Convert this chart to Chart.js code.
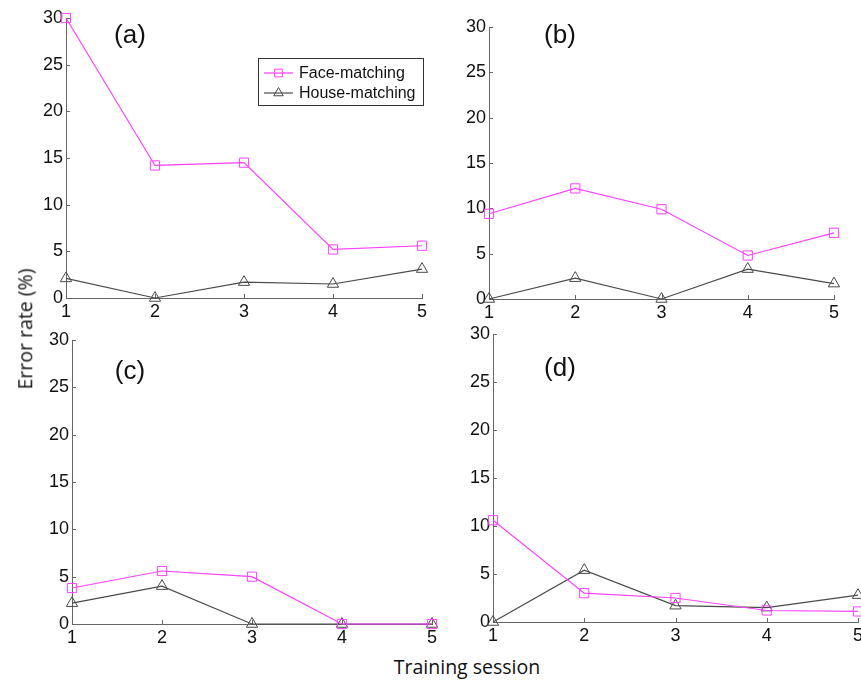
<!DOCTYPE html>
<html>
<head>
<meta charset="utf-8">
<script src="https://cdn.jsdelivr.net/npm/chart.js@4.4.0/dist/chart.umd.min.js"></script>
<style>
  body { margin: 0; background: #fff; }
  #wrap { position: relative; width: 861px; height: 681px; overflow: hidden; }
  canvas { position: absolute; }
  .axlabel { position: absolute; font-family: "Open Sans", sans-serif; font-size: 19.5px; color: #111; white-space: nowrap; line-height: 1; }
</style>
</head>
<body>
<div id="wrap">
  <canvas id="pa"></canvas>
  <canvas id="pb"></canvas>
  <canvas id="pc"></canvas>
  <canvas id="pd"></canvas>
  <div class="axlabel" id="ylab" style="left:25px; top:329px; transform: translate(-50%,-50%) rotate(-90deg);">Error rate (%)</div>
  <div class="axlabel" id="xlab" style="left:467px; top:667px; transform: translate(-50%,-50%);">Training session</div>
</div>
<script>
// sessions on the x axis
const sessions = ['1', '2', '3', '4', '5']
const seriesNames = ['Face-matching', 'House-matching']
const yMin = 0, yMax = 30, yStep = 5

// error rate (%)
const faceA = [30, 14.2, 14.5, 5.2, 5.6]
const houseA = [2.1, 0, 1.7, 1.5, 3.1]
const faceB = [9.4, 12.2, 9.9, 4.8, 7.3]
const houseB = [0, 2.3, 0, 3.3, 1.7]
const faceC = [3.8, 5.6, 5.0, 0, 0]
const houseC = [2.2, 4.0, 0, 0, 0]
const faceD = [10.6, 3.0, 2.5, 1.2, 1.1]
const houseD = [0, 5.4, 1.7, 1.5, 2.8]

const faceColor = '#ff40ff'
const houseColor = '#4a4a4a'
const axisColor = '#666'
const tickFont = { family: 'Liberation Sans, Arial, sans-serif', size: 18 }

const Y_W = 36, X_H = 28, PAD_T = 14, PAD_R = 10

// small ticks pointing into the plot, like matlab
const insideTicks = {
    id: 'insideTicks',
    beforeDatasetsDraw(chart) {
        const { ctx, chartArea, scales } = chart
        ctx.save()
        ctx.strokeStyle = axisColor
        ctx.lineWidth = 1
        ctx.beginPath()
        scales.y.ticks.forEach(t => {
            const y = Math.round(scales.y.getPixelForValue(t.value)) + 0.5
            ctx.moveTo(chartArea.left, y)
            ctx.lineTo(chartArea.left + 4, y)
        })
        scales.x.ticks.forEach((t, i) => {
            const x = Math.round(scales.x.getPixelForTick(i)) + 0.5
            ctx.moveTo(x, chartArea.bottom)
            ctx.lineTo(x, chartArea.bottom - 4)
        })
        ctx.stroke()
        ctx.restore()
    }
}

// "(a)" etc. and the boxed legend of panel a
const panelText = {
    id: 'panelText',
    afterDraw(chart, args, opts) {
        const { ctx, chartArea } = chart
        ctx.save()
        ctx.fillStyle = '#111'
        ctx.font = '26px Liberation Sans, Arial, sans-serif'
        ctx.textAlign = 'center'
        ctx.textBaseline = 'middle'
        ctx.fillText(opts.tag, chartArea.left + opts.tagDx, chartArea.top + opts.tagDy)

        if (opts.legend) {
            const w = 165, h = 47
            const bx = chartArea.right + 1 - w, by = chartArea.top + 40
            ctx.fillStyle = '#fff'
            ctx.fillRect(bx, by, w, h)
            ctx.strokeStyle = '#333'
            ctx.lineWidth = 1
            ctx.strokeRect(Math.round(bx) + 0.5, Math.round(by) + 0.5, w, h)
            chart.data.datasets.forEach((ds, i) => {
                const cy = by + 15 + i * 20
                ctx.strokeStyle = ds.borderColor
                ctx.lineWidth = 1.2
                ctx.beginPath()
                ctx.moveTo(bx + 6, cy)
                ctx.lineTo(bx + 35, cy)
                ctx.stroke()
                ctx.fillStyle = 'rgba(0,0,0,0)'
                ctx.lineWidth = 1
                Chart.helpers.drawPoint(ctx, { pointStyle: ds.pointStyle, radius: 5.5, borderWidth: 1 }, bx + 20.5, cy)
                ctx.fillStyle = '#111'
                ctx.font = '16px Liberation Sans, Arial, sans-serif'
                ctx.textAlign = 'left'
                ctx.fillText(ds.label, bx + 41, cy + 1)
            })
        }
        ctx.restore()
    }
}

function makePanel(id, area, face, house, tag, tagPos, withLegend) {
    const cv = document.getElementById(id)
    const left = area.l - Y_W, top = area.t - PAD_T
    const w = area.r + PAD_R - left, h = area.b + X_H - top
    cv.style.left = left + 'px'
    cv.style.top = top + 'px'
    cv.width = w
    cv.height = h
    cv.style.width = w + 'px'
    cv.style.height = h + 'px'

    return new Chart(cv.getContext('2d'), {
        type: 'line',
        data: {
            labels: sessions,
            datasets: [
                {
                    label: seriesNames[0], data: face,
                    borderColor: faceColor, pointStyle: 'rect',
                },
                {
                    label: seriesNames[1], data: house,
                    borderColor: houseColor, pointStyle: 'triangle',
                }
            ]
        },
        options: {
            responsive: false,
            animation: false,
            devicePixelRatio: 1,
            layout: { padding: { top: PAD_T, right: PAD_R, left: 0, bottom: 0 } },
            datasets: {
                line: {
                    clip: false,
                    borderWidth: 1.2,
                    tension: 0,
                    pointRadius: 6.5,
                    pointBorderWidth: 1,
                    pointBackgroundColor: 'rgba(0,0,0,0)',
                    pointBorderColor: ctx => ctx.dataset.borderColor,
                }
            },
            scales: {
                x: {
                    grid: { display: true, drawOnChartArea: false, drawTicks: false },
                    border: { color: axisColor, width: 1 },
                    ticks: { color: '#111', font: tickFont, padding: 3, maxRotation: 0 },
                    afterFit: s => { s.height = X_H },
                },
                y: {
                    min: yMin, max: yMax,
                    grid: { display: true, drawOnChartArea: false, drawTicks: false },
                    border: { color: axisColor, width: 1 },
                    ticks: { stepSize: yStep, color: '#111', font: tickFont, padding: 3 },
                    afterFit: s => { s.width = Y_W },
                }
            },
            plugins: {
                legend: { display: false },
                tooltip: { enabled: false },
                panelText: { tag: tag, tagDx: tagPos[0] - area.l, tagDy: tagPos[1] - area.t, legend: withLegend },
            }
        },
        plugins: [insideTicks, panelText]
    })
}

makePanel('pa', { l: 66, r: 422, t: 18, b: 298 }, faceA, houseA, '(a)', [130, 36], true)
makePanel('pb', { l: 489, r: 834, t: 27, b: 299 }, faceB, houseB, '(b)', [560, 36], false)
makePanel('pc', { l: 72, r: 432, t: 340, b: 624 }, faceC, houseC, '(c)', [130, 372], false)
makePanel('pd', { l: 493, r: 858, t: 334, b: 622 }, faceD, houseD, '(d)', [560, 369], false)
</script>
</body>
</html>
